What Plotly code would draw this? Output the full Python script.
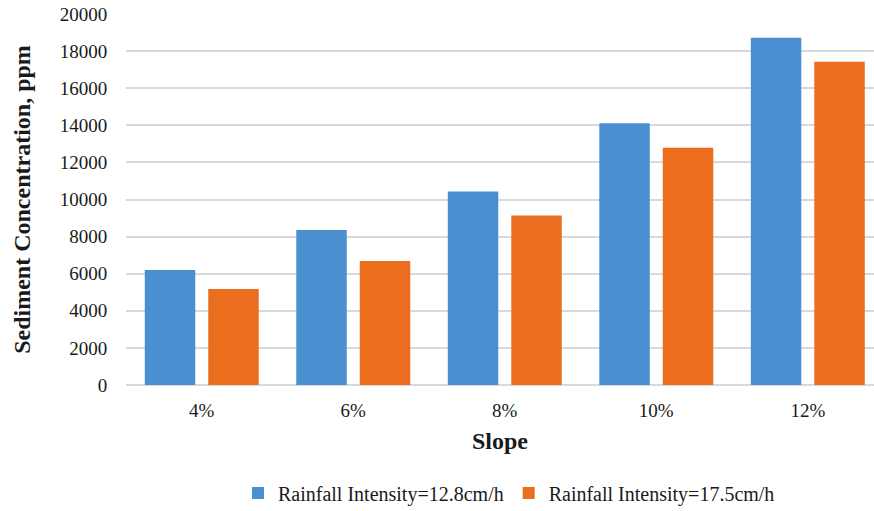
import plotly.graph_objects as go

categories = ["4%", "6%", "8%", "10%", "12%"]
series1_name = "Rainfall Intensity=12.8cm/h"
series2_name = "Rainfall Intensity=17.5cm/h"
series1 = [6200, 8350, 10430, 14110, 18720]
series2 = [5180, 6680, 9140, 12790, 17420]
y_ticks = [0, 2000, 4000, 6000, 8000, 10000, 12000, 14000, 16000, 18000, 20000]

FONT = "Liberation Serif"

fig = go.Figure()
fig.add_trace(go.Bar(x=categories, y=series1, name=series1_name,
                     marker=dict(color="#4A8FD0", line=dict(width=0))))
fig.add_trace(go.Bar(x=categories, y=series2, name=series2_name,
                     marker=dict(color="#EA6E1E", line=dict(width=0))))

fig.update_layout(
    width=874, height=511,
    margin=dict(l=126, r=0, t=14, b=126),
    paper_bgcolor="white", plot_bgcolor="white",
    barmode="group", bargap=0.162, bargroupgap=0.205,
    font=dict(family=FONT, color="#1a1a1a", size=19),
    showlegend=True,
    legend=dict(orientation="h", xref="container", yref="container",
                x=238/874, xanchor="left", y=1-493/511, yanchor="middle",
                font=dict(size=20, family=FONT), itemwidth=30,
                traceorder="normal"),
    xaxis=dict(
        type="category", range=[-0.5, 4.437],
        showgrid=False, showline=False, zeroline=False,
        ticks="outside", ticklen=8, tickcolor="rgba(0,0,0,0)",
        tickfont=dict(size=19, family=FONT),
        title=dict(text="<b>Slope</b>", font=dict(size=24, family=FONT), standoff=12),
    ),
    yaxis=dict(
        range=[0, 20000], tickvals=y_ticks,
        ticktext=[str(v) for v in y_ticks],
        showgrid=True, gridcolor="#D9D9D9", gridwidth=1.5,
        zeroline=True, zerolinecolor="#D9D9D9", zerolinewidth=1.5,
        showline=False,
        ticks="outside", ticklen=14, tickcolor="rgba(0,0,0,0)",
        tickfont=dict(size=19, family=FONT),
        title=dict(text="<b>Sediment Concentration, ppm</b>", font=dict(size=24, family=FONT), standoff=22),
    ),
)

fig.write_html("out.html")
